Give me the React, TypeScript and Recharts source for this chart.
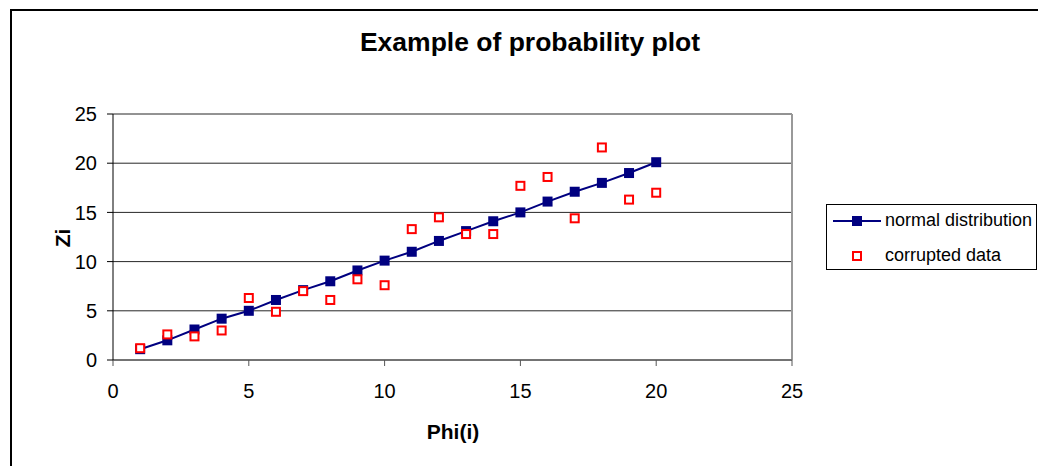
import React from "react";
import { ScatterChart, Scatter, XAxis, YAxis, CartesianGrid, ReferenceLine, Legend } from "recharts";

const phi = [1, 2, 3, 4, 5, 6, 7, 8, 9, 10, 11, 12, 13, 14, 15, 16, 17, 18, 19, 20];
const normalValues = [1.1, 2.0, 3.1, 4.2, 5.0, 6.1, 7.1, 8.0, 9.1, 10.1, 11.0, 12.1, 13.1, 14.1, 15.0, 16.1, 17.1, 18.0, 19.0, 20.1];
const corruptedValues = [1.2, 2.6, 2.4, 3.0, 6.3, 4.9, 7.0, 6.1, 8.2, 7.6, 13.3, 14.5, 12.8, 12.8, 17.7, 18.6, 14.4, 21.6, 16.3, 17.0];
const axisTicks = [0, 5, 10, 15, 20, 25];

const NAVY = "#000080";
const RED = "#ff0000";
const FONT = "'Liberation Sans', Arial, sans-serif";

const normalData = phi.map((x, i) => ({ x, y: normalValues[i] }));
const corruptedData = phi.map((x, i) => ({ x, y: corruptedValues[i] }));

function FilledSquare(props: any) {
  const { cx, cy } = props;
  return <rect x={cx - 5} y={cy - 5} width={10} height={10} fill={NAVY} />;
}

function HollowSquare(props: any) {
  const { cx, cy } = props;
  return <rect x={cx - 4} y={cy - 4} width={8} height={8} fill="#fff" stroke={RED} strokeWidth={2} />;
}

function renderLegend() {
  return (
    <div
      style={{
        width: 209,
        height: 64,
        border: "1px solid #000",
        background: "#fff",
        fontFamily: FONT,
        fontSize: 18,
        color: "#000",
        position: "relative",
      }}
    >
      <svg width={60} height={64} style={{ position: "absolute", left: 0, top: 0 }}>
        <line x1={6} y1={16} x2={54} y2={16} stroke={NAVY} strokeWidth={2} />
        <rect x={25} y={11} width={10} height={10} fill={NAVY} />
        <rect x={26} y={47} width={8} height={8} fill="#fff" stroke={RED} strokeWidth={2} />
      </svg>
      <div style={{ position: "absolute", left: 58, top: 5, whiteSpace: "nowrap" }}>normal distribution</div>
      <div style={{ position: "absolute", left: 58, top: 40, whiteSpace: "nowrap" }}>corrupted data</div>
    </div>
  );
}

export default function App() {
  return (
    <div style={{ position: "fixed", left: 0, top: 0, width: 1038, height: 466, background: "#fff", overflow: "hidden" }}>
      <div
        style={{
          position: "absolute",
          left: 10,
          top: 9,
          width: 1040,
          height: 470,
          border: "2px solid #000",
          boxSizing: "border-box",
        }}
      />
      <div
        style={{
          position: "absolute",
          left: 0,
          width: 1060,
          top: 27,
          textAlign: "center",
          fontFamily: FONT,
          fontWeight: "bold",
          fontSize: 26.5,
          color: "#000",
        }}
      >
        Example of probability plot
      </div>
      <div
        style={{
          position: "absolute",
          left: 353,
          width: 200,
          top: 420,
          textAlign: "center",
          fontFamily: FONT,
          fontWeight: "bold",
          fontSize: 21,
          color: "#000",
        }}
      >
        Phi(i)
      </div>
      <div
        style={{
          position: "absolute",
          left: 63,
          top: 238,
          transform: "translate(-50%, -50%) rotate(-90deg)",
          fontFamily: FONT,
          fontWeight: "bold",
          fontSize: 21,
          color: "#000",
        }}
      >
        Zi
      </div>
      <div style={{ position: "absolute", left: 0, top: 0 }}>
        <ScatterChart width={1038} height={466} margin={{ top: 114, right: 246, bottom: 46, left: 53 }}>
          <CartesianGrid horizontal vertical={false} stroke="#000" strokeOpacity={0.85} />
          <XAxis
            type="number"
            dataKey="x"
            domain={[0, 25]}
            ticks={axisTicks}
            height={60}
            tickSize={6}
            tickMargin={18}
            stroke="#555"
            tick={{ fontSize: 20, fill: "#000", fontFamily: FONT }}
          />
          <YAxis
            type="number"
            dataKey="y"
            domain={[0, 25]}
            ticks={axisTicks}
            width={60}
            tickSize={6}
            tickMargin={10}
            stroke="#000"
            tick={{ fontSize: 20, fill: "#000", fontFamily: FONT }}
          />
          <ReferenceLine x={25} stroke="#999" strokeWidth={2} ifOverflow="extendDomain" />
          <Scatter
            name="normal distribution"
            data={normalData}
            line={{ stroke: NAVY, strokeWidth: 2 }}
            lineType="joint"
            shape={<FilledSquare />}
            isAnimationActive={false}
          />
          <Scatter
            name="corrupted data"
            data={corruptedData}
            shape={<HollowSquare />}
            isAnimationActive={false}
          />
          <Legend
            layout="vertical"
            align="center"
            verticalAlign="middle"
            content={renderLegend}
            wrapperStyle={{ position: "absolute", left: 826, top: 204, width: 211 }}
          />
        </ScatterChart>
      </div>
    </div>
  );
}
